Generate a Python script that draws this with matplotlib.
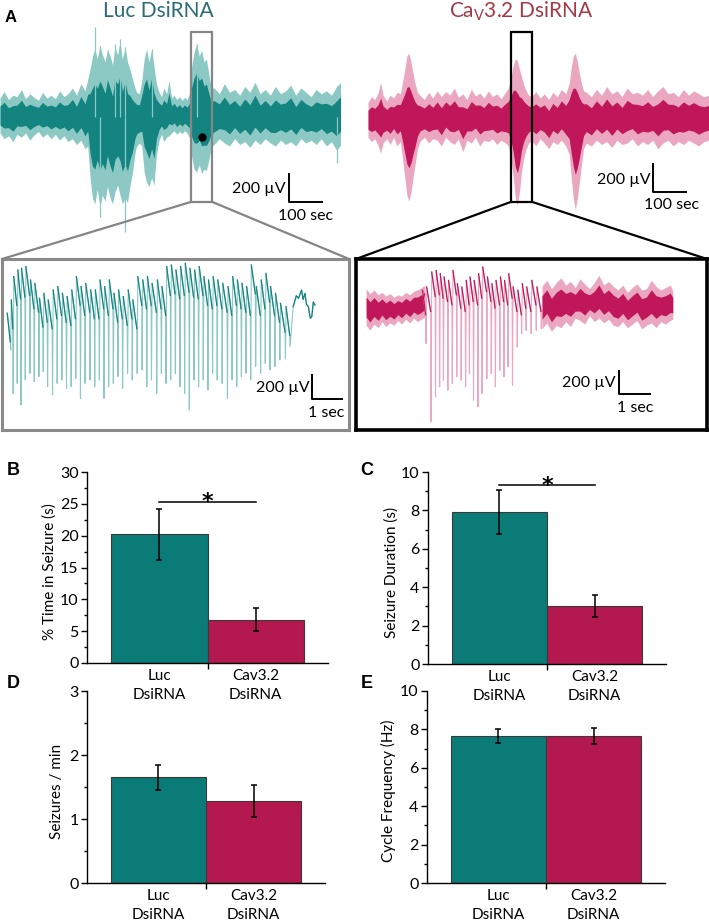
import matplotlib
matplotlib.use('Agg')
import matplotlib.pyplot as plt
import numpy as np
from matplotlib.patches import Rectangle, ConnectionPatch

plt.rcParams['font.family'] = ['Lato', 'DejaVu Sans']
plt.rcParams['mathtext.fontset'] = 'custom'
plt.rcParams['mathtext.rm'] = 'Lato'
plt.rcParams['mathtext.it'] = 'Lato:italic'

# ---------------- data ----------------
# Panel A overview traces: envelope (time s, upper uV, lower uV)
luc_env_t = [0, 12, 25, 38, 50, 63, 75, 88, 100, 113, 125, 138, 150, 163, 175, 188, 200, 213, 225,
             238, 250, 258,
             265, 272, 279, 286, 294, 301, 309, 316, 324, 331, 338, 346, 353, 360, 368, 375, 382,
             390, 397, 402,
             410, 417,
             424, 431, 438, 446, 453, 460,
             468, 475, 482, 490, 497, 505, 512, 520, 528, 535, 543, 550, 557,
             564, 571, 578, 586, 593, 600, 607, 614, 621,
             630, 645, 660, 675, 690, 705, 720, 735, 750, 765, 780, 795, 810, 825, 840, 855, 870,
             885, 900, 915, 930, 945, 960, 975, 990, 1003]
luc_env_hi = [130, 175, 120, 150, 140, 190, 125, 160, 135, 115, 170, 130, 150, 125, 180, 140, 160,
              200, 150, 230, 180, 260,
              330, 420, 470, 400, 500, 430, 380, 470, 420, 360, 480, 430, 520, 400, 480, 380, 330,
              260, 200, 170,
              160, 250,
              400, 470, 380, 470, 350, 230,
              170, 140, 200, 160, 250, 130, 150, 120, 140, 115, 135, 120, 160,
              350, 450, 500, 420, 460, 380, 400, 300, 200,
              200, 160, 230, 170, 190, 150, 210, 170, 240, 160, 190, 150, 210, 160, 180, 220, 150,
              200, 170, 140, 190, 160, 180, 150, 210, 240]
luc_env_lo = [-110, -150, -130, -170, -120, -140, -110, -160, -125, -100, -140, -115, -150, -120,
              -160, -130, -170, -150, -190, -160, -220, -200,
              -420, -560, -600, -500, -620, -540, -580, -480, -560, -600, -520, -470, -540, -600,
              -560, -590, -480, -380, -250, -200,
              -180, -200,
              -380, -450, -480, -420, -470, -260,
              -160, -120, -170, -140, -130, -110, -95, -120, -100, -115, -95, -110, -140,
              -280, -360, -380, -330, -390, -360, -370, -300, -210,
              -190, -150, -180, -200, -150, -190, -170, -210, -160, -190, -150, -180, -200, -160,
              -190, -170, -200, -150, -180, -160, -190, -150, -200, -170, -230, -190]
luc_spk_t = [279, 294, 338, 353, 368, 368, 446, 578, 990, 1002]
luc_spk_v = [621, -690, 500, 540, 483, -793, 470, 500, -317, 269]

red_env_t = [0, 10, 20, 30, 37, 44, 55, 65, 75, 85, 95,
             102, 108, 114, 120, 126, 132, 138, 145,
             152, 165, 178, 190, 203, 215, 228, 240, 253, 265, 278, 290, 303, 315, 328, 340, 353,
             365, 378, 390, 403, 412,
             420, 426, 432, 438, 444, 450, 457, 464, 471,
             480, 492, 505, 517, 530, 542, 555, 567, 580, 590,
             596, 602, 608, 614, 620, 626, 632,
             640, 655, 670, 685, 700, 715, 730, 745, 760, 775, 790, 805, 820, 835, 850, 865, 880,
             895, 910, 925, 940, 955, 970, 985, 1000]
red_env_hi = [100, 140, 120, 170, 240, 150, 110, 150, 130, 170, 160,
              250, 330, 420, 440, 380, 300, 230, 170,
              150, 120, 170, 130, 180, 140, 175, 150, 200, 135, 160, 120, 190, 145, 165, 130, 180,
              140, 160, 125, 170, 200,
              280, 360, 400, 390, 330, 280, 220, 180, 150,
              140, 175, 130, 160, 120, 170, 140, 190, 160, 230,
              340, 420, 440, 380, 300, 230, 180,
              170, 140, 190, 150, 210, 160, 180, 140, 200, 160, 170, 150, 190, 140, 180, 210, 160,
              170, 140, 190, 150, 180, 160, 140, 150]
red_env_lo = [-140, -170, -150, -200, -250, -180, -150, -190, -140, -200, -170,
              -300, -420, -540, -580, -520, -420, -330, -220,
              -170, -140, -180, -150, -160, -200, -140, -170, -190, -150, -240, -160, -180, -140,
              -200, -160, -170, -150, -190, -160, -180, -200,
              -300, -420, -560, -610, -520, -380, -280, -220, -180,
              -160, -200, -150, -180, -220, -170, -190, -160, -200, -260,
              -420, -560, -640, -560, -450, -330, -220,
              -180, -200, -160, -190, -170, -210, -160, -190, -180, -150, -200, -170, -190, -160,
              -220, -180, -160, -200, -170, -190, -160, -180, -200, -170, -160]

# Panel A expanded traces: spike-wave discharges (spike time s, wave peak uV, spike trough uV)
luc_swd_t = [0.09, 0.17, 0.30, 0.42, 0.56, 0.71, 0.85, 1.00, 1.14, 1.28,
             1.44, 1.59, 1.74, 1.89, 2.04, 2.19, 2.34, 2.49, 2.65, 2.80,
             2.95, 3.10, 3.25, 3.40, 3.55, 3.70, 3.86, 4.01, 4.17, 4.33,
             4.48, 4.63, 4.80, 4.95, 5.10, 5.25, 5.40, 5.55, 5.70, 5.85,
             6.00, 6.15, 6.30, 6.45, 6.60, 6.75, 6.91, 7.08, 7.23, 7.38,
             7.53, 7.68, 7.83, 7.99, 8.15, 8.30, 8.45, 8.61, 8.77, 8.95, 9.10]
luc_swd_top = [-50, 56, 243, 296, 309, 323, 216, 189, 69, 109,
               56, 136, 163, 109, 83, 136, 243, 163, 189, 136,
               136, 216, 163, 216, 109, 136, 83, 136, 56, 243,
               216, 243, 189, 216, 163, 323, 336, 296, 323, 349,
               309, 296, 323, 243, 216, 243, 216, 189, 163, 243,
               216, 189, 163, 336, 163, 216, 269, 163, 109, 29, 3]
luc_swd_bot = [-344, -691, -611, -784, -584, -531, -597, -557, -517, -637,
               -704, -611, -584, -651, -637, -571, -731, -611, -584, -637,
               -584, -731, -637, -611, -557, -651, -531, -584, -531, -504,
               -637, -584, -691, -531, -611, -584, -531, -637, -691, -824,
               -584, -637, -584, -664, -531, -584, -611, -731, -584, -637,
               -557, -531, -584, -477, -531, -451, -504, -477, -424, -411, -317]
luc_tail_t = [9.20, 9.30, 9.37, 9.47, 9.52, 9.58, 9.63, 9.69, 9.75, 9.80, 9.85, 9.90]
luc_tail_v = [3, 90, 69, 136, 60, 109, 20, 3, -90, -77, 40, 16]

red_swd_t = [1.89, 2.05, 2.19, 2.32, 2.44, 2.58, 2.72, 2.86, 3.00, 3.14, 3.26, 3.39, 3.53, 3.66,
             3.81, 3.95, 4.08, 4.22, 4.35, 4.48, 4.62, 4.77, 4.91, 5.05, 5.21, 5.37, 5.53]
red_swd_top = [137, 164, 287, 300, 273, 246, 218, 300, 191, 164, 218, 246, 218, 273,
               328, 246, 191, 218, 246, 218, 273, 164, 137, 191, 164, 218, 164]
red_swd_bot = [-300, -942, -737, -655, -601, -683, -628, -573, -601, -655, -546, -764, -819, -710,
               -587, -546, -655, -519, -573, -491, -642, -328, -218, -191, -218, -191, -177]
red_pre_t = [0.0, 0.12, 0.25, 0.38, 0.5, 0.62, 0.75, 0.88, 1.0, 1.12, 1.25, 1.38, 1.5, 1.62, 1.75,
             1.85]
red_pre_hi = [150, 110, 140, 100, 120, 90, 110, 80, 100, 90, 120, 100, 130, 140, 160, 180]
red_pre_lo = [-150, -190, -140, -170, -120, -160, -130, -150, -110, -140, -100, -130, -90, -120,
              -100, -80]
red_post_t = [5.55, 5.7, 5.85, 6.0, 6.15, 6.3, 6.45, 6.6, 6.75, 6.9, 7.05, 7.2, 7.35, 7.5, 7.65,
              7.8, 7.95, 8.1, 8.25, 8.4, 8.55, 8.7, 8.85, 9.0, 9.15, 9.3, 9.45, 9.6, 9.68]
red_post_hi = [170, 220, 150, 200, 240, 180, 210, 160, 230, 190, 150, 200, 260, 180, 210, 170,
               140, 180, 120, 160, 190, 140, 150, 220, 170, 140, 160, 180, 130]
red_post_lo = [-180, -130, -200, -150, -170, -120, -160, -90, -110, -140, -70, -120, -90, -130,
               -100, -150, -160, -120, -170, -140, -110, -180, -150, -130, -170, -120, -140, -110,
               -100]

# Panels B-E
groups = ['Luc\nDsiRNA', 'Cav3.2\nDsiRNA']
pct_time = [20.2, 6.8]
pct_time_err = [4.0, 1.8]
duration = [7.9, 3.0]
duration_err = [1.15, 0.57]
rate = [1.65, 1.28]
rate_err = [0.19, 0.25]
freq = [7.65, 7.65]
freq_err = [0.37, 0.42]

# ---------------- style ----------------
W, H = 709, 922
TEAL = '#0b7b78'
CRIMSON = '#b3194e'
TRACE_T = '#138480'
TRACE_T_L = '#8cc9c5'
TRACE_R = '#c0175a'
TRACE_R_L = '#eca7c0'

fig = plt.figure(figsize=(W / 100, H / 100), dpi=100, facecolor='white')


def px_axes(x0, y0, x1, y1):
    return fig.add_axes([x0 / W, 1 - y1 / H, (x1 - x0) / W, (y1 - y0) / H])


def ftext(x, y, s, **kw):
    return fig.text(x / W, 1 - y / H, s, **kw)


def blank(ax):
    ax.set_xticks([])
    ax.set_yticks([])
    for s in ax.spines.values():
        s.set_visible(False)
    ax.patch.set_alpha(0)


def band(ax, t, hi, lo, col, col_l, core=0.5):
    t = np.asarray(t); hi = np.asarray(hi, float); lo = np.asarray(lo, float)
    mid = (hi + lo) / 2
    half = (hi - lo) / 2 * core
    ax.fill_between(t, lo, hi, color=col_l, lw=0)
    ax.fill_between(t, mid - half, mid + half, color=col, lw=0)


# ---------------- Panel A: overview ----------------
def overview(box, t, hi, lo, col, col_l, spk_t=None, spk_v=None):
    ax = px_axes(*box)
    blank(ax)
    ax.set_xlim(0, 1000)
    ax.set_ylim(-918, 807)
    if spk_t is not None:
        ax.vlines(spk_t, 0, spk_v, color=col_l, lw=0.9)
    band(ax, t, hi, lo, col, col_l, core=0.55)
    return ax


ax_lo = overview((0, 0, 340, 250), luc_env_t, luc_env_hi, luc_env_lo, TRACE_T, TRACE_T_L,
                 luc_spk_t, luc_spk_v)
ax_ro = overview((368, 0, 709, 250), red_env_t, red_env_hi, red_env_lo, TRACE_R, TRACE_R_L)

ax_lo.add_patch(Rectangle((562, -586), 62, 1172, fill=False, ec='#858585', lw=1.6))
ax_lo.plot([594], [-138], 'o', color='black', ms=5)
ax_ro.add_patch(Rectangle((419, -586), 62, 1172, fill=False, ec='black', lw=1.6))


def scalebar(ax, x, y, dx, dy, tx, ty, tx2, ty2, l1, l2, fs=11.5):
    ax.plot([x, x, x + dx], [y + dy, y, y], color='black', lw=1.4, solid_capstyle='butt',
            clip_on=False)
    ax.text(tx, ty, l1, ha='right', va='center', fontsize=fs, clip_on=False)
    ax.text(tx2, ty2, l2, ha='center', va='center', fontsize=fs, clip_on=False)


scalebar(ax_lo, 850, -586, 100, 200, 841, -497, 900, -683, '200 µV', '100 sec')
scalebar(ax_ro, 836, -517, 100, 200, 830, -435, 889, -607, '200 µV', '100 sec')

ftext(11, 18, 'A', fontsize=12, fontweight='bold', family='Liberation Sans', ha='center',
      va='center')
ftext(158, 11, 'Luc DsiRNA', fontsize=15, color='#2b6b74', ha='center', va='center')
ftext(521, 11, r'Ca$_\mathrm{V}$3.2 DsiRNA', fontsize=15, color='#a33a45', ha='center',
      va='center')

# ---------------- Panel A: expanded ----------------
ax_lz = px_axes(2, 259, 349, 430)
ax_lz.set_xticks([]); ax_lz.set_yticks([])
for s in ax_lz.spines.values():
    s.set_color('#8a8a8a'); s.set_linewidth(2.2)
ax_lz.set_xlim(-0.19, 11.0)
ax_lz.set_ylim(-984, 384)

ax_rz = px_axes(356, 259, 707, 430)
ax_rz.set_xticks([]); ax_rz.set_yticks([])
for s in ax_rz.spines.values():
    s.set_color('black'); s.set_linewidth(2.6)
ax_rz.set_xlim(-0.32, 10.76)
ax_rz.set_ylim(-1009, 394)


def swd(ax, t, top, bot, depth, col, col_l, t0=None, v0=None, tail_t=None, tail_v=None):
    xs, ys = [], []
    dxs, dys = [], []
    if t0 is not None:
        xs.append(t0); ys.append(v0)
    for i in range(len(t)):
        tp = t[i] - 0.11 if i == 0 else t[i - 1] + 0.02
        tw = t[i] - 0.012
        xs += [tp, tw, t[i]]
        ys += [top[i], top[i] - depth, bot[i]]
        dxs += [tp, tw, np.nan]
        dys += [top[i], top[i] - depth, np.nan]
    if tail_t is not None:
        xs += list(tail_t); ys += list(tail_v)
        dxs += list(tail_t); dys += list(tail_v)
    ax.plot(xs, ys, color=col_l, lw=0.8)
    ax.plot(dxs, dys, color=col, lw=0.9)


swd(ax_lz, luc_swd_t, luc_swd_top, luc_swd_bot, 230, TRACE_T, TRACE_T_L,
    tail_t=luc_tail_t, tail_v=luc_tail_v)

band(ax_rz, red_pre_t, red_pre_hi, red_pre_lo, TRACE_R, TRACE_R_L, core=0.55)
band(ax_rz, red_post_t, red_post_hi, red_post_lo, TRACE_R, TRACE_R_L, core=0.55)
swd(ax_rz, red_swd_t, red_swd_top, red_swd_bot, 200, TRACE_R, TRACE_R_L,
    t0=red_pre_t[-1], v0=50, tail_t=[red_post_t[0]], tail_v=[0])

scalebar(ax_lz, 9.8, -736, 1.0, 200, 9.74, -648, 10.28, -848, '200 µV', '1 sec')
scalebar(ax_rz, 7.98, -713, 1.0, 200, 7.89, -623, 8.49, -828, '200 µV', '1 sec')

for (xa, xb) in [((562, -586), (0, 1)), ((624, -586), (1, 1))]:
    fig.add_artist(ConnectionPatch(xyA=xa, coordsA=ax_lo.transData, xyB=xb,
                                   coordsB=ax_lz.transAxes, color='#858585', lw=1.6))
for (xa, xb) in [((419, -586), (0, 1)), ((481, -586), (1, 1))]:
    fig.add_artist(ConnectionPatch(xyA=xa, coordsA=ax_ro.transData, xyB=xb,
                                   coordsB=ax_rz.transAxes, color='black', lw=1.6))


# ---------------- Panels B-E ----------------
def bar_panel(box, vals, errs, ylim, yticks, yminor, ylabel, ylab_x, letter, letter_xy, sig=None):
    ax = px_axes(*box)
    ax.patch.set_alpha(0)
    ax.bar([1, 2], vals, width=1.0, color=[TEAL, CRIMSON], edgecolor='#3a3a3a', linewidth=0.8,
           zorder=2)
    ax.errorbar([1, 2], vals, yerr=errs, fmt='none', ecolor='black', elinewidth=1.1,
                capsize=2.5, capthick=1.1, zorder=3)
    ax.set_xlim(0.25, 2.75)
    ax.set_ylim(*ylim)
    for s in ['top', 'right']:
        ax.spines[s].set_visible(False)
    for s in ['left', 'bottom']:
        ax.spines[s].set_linewidth(1.0)
    ax.set_yticks(yticks)
    ax.set_yticks(yminor, minor=True)
    ax.tick_params(axis='y', which='major', length=4.5, width=1, labelsize=11.5, pad=1.5)
    ax.tick_params(axis='y', which='minor', length=2.5, width=1)
    ax.set_xticks([1.5])
    ax.set_xticklabels([''])
    ax.tick_params(axis='x', which='major', length=4.5, width=1)
    ax.set_xticks([1, 2], minor=True)
    ax.set_xticklabels(groups, minor=True, fontsize=11, linespacing=1.5)
    ax.tick_params(axis='x', which='minor', length=0, pad=4)
    x0, y0, x1, y1 = box
    ftext(ylab_x, (y0 + y1) / 2 + 4, ylabel, rotation=90, ha='center', va='center', fontsize=11)
    ftext(letter_xy[0], letter_xy[1], letter, fontsize=13, fontweight='bold',
          family='Liberation Sans', ha='center', va='center')
    if sig is not None:
        ax.plot([1, 2], [sig, sig], color='black', lw=1.1)
        ax.annotate('*', (1.5, sig), xytext=(0, -4.5), textcoords='offset points',
                    ha='center', va='baseline', fontsize=16, fontweight='bold',
                    family='DejaVu Sans')
    return ax


bar_panel((87, 472, 328, 663), pct_time, pct_time_err, (0, 30), [0, 5, 10, 15, 20, 25, 30],
          [2.5, 7.5, 12.5, 17.5, 22.5, 27.5], '% Time in Seizure (s)', 50, 'B', (13, 470),
          sig=25.3)
bar_panel((428, 472, 666, 664), duration, duration_err, (0, 10), [0, 2, 4, 6, 8, 10],
          [1, 3, 5, 7, 9], 'Seizure Duration (s)', 392, 'C', (367, 470), sig=9.3)
bar_panel((87, 691, 325, 883), rate, rate_err, (0, 3), [0, 1, 2, 3], [0.5, 1.5, 2.5],
          'Seizures / min', 57, 'D', (13, 683))
bar_panel((427, 691, 665, 883), freq, freq_err, (0, 10), [0, 2, 4, 6, 8, 10], [1, 3, 5, 7, 9],
          'Cycle Frequency (Hz)', 388, 'E', (367, 683))

fig.savefig('out.png', dpi=100, facecolor='white')
